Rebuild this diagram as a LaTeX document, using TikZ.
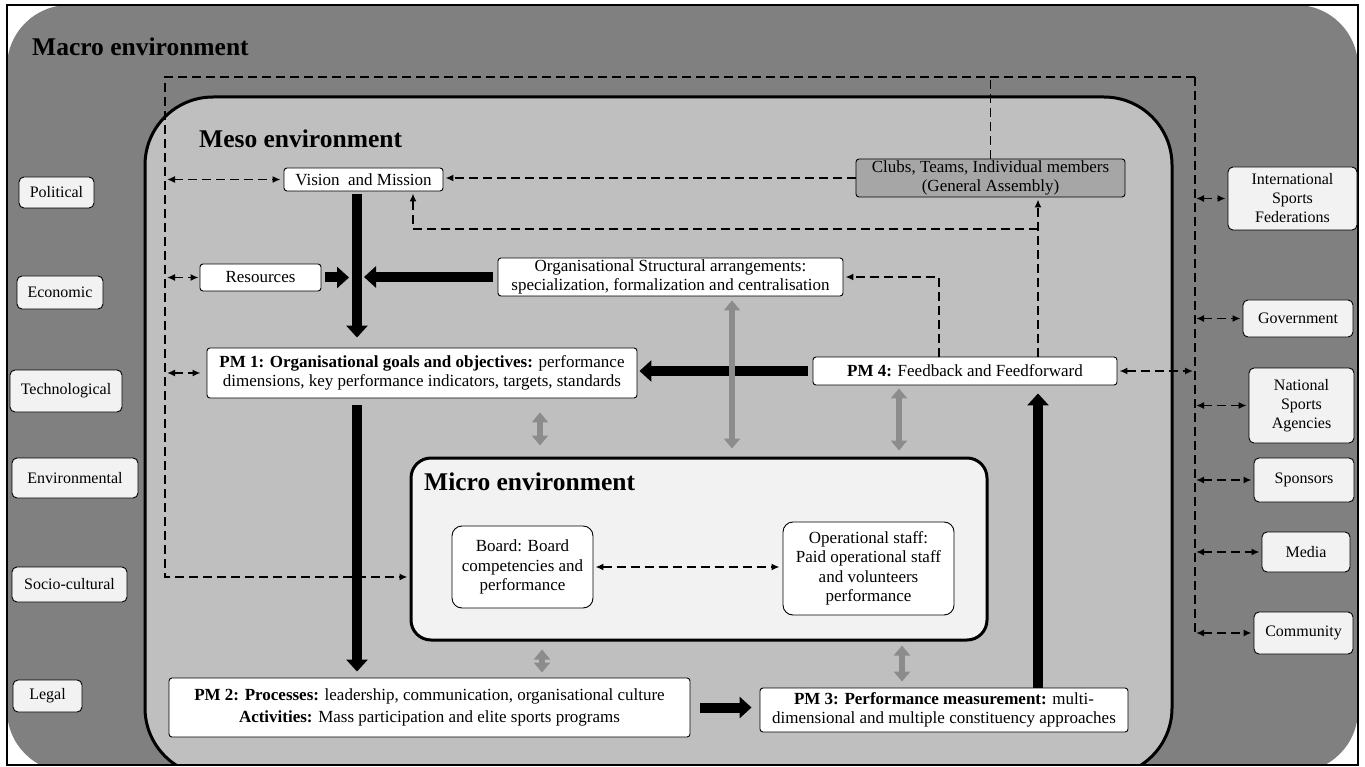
\documentclass[tikz,border=0pt]{standalone}
\usepackage{fontspec}
\setmainfont{Liberation Serif}
\usetikzlibrary{arrows.meta}
\definecolor{macrogray}{HTML}{808080}
\definecolor{mesogray}{HTML}{BFBFBF}
\definecolor{microfill}{HTML}{F2F2F2}
\definecolor{clubfill}{HTML}{A6A6A6}
\definecolor{greyarrow}{HTML}{8C8C8C}
\begin{document}
\begin{tikzpicture}[x=1pt,y=-1pt,
  box/.style={draw=black, line width=0.9pt, fill=white, rounded corners=3pt, inner sep=0pt, align=center, font=\fontsize{17}{19.5}\selectfont},
  envbox/.style={box, fill=microfill, rounded corners=5pt, font=\fontsize{16}{19}\selectfont},
  dline/.style={draw=black, line width=1.9pt, dash pattern=on 9pt off 5pt},
  dto/.style={dline, -{Latex[length=8pt,width=7pt]}},
  dboth/.style={dline, {Latex[length=8pt,width=7pt]}-{Latex[length=8pt,width=7pt]}},
  bigarrow/.style={line width=10pt, -{Triangle[width=21pt,length=12pt]}},
  greyboth/.style={draw=greyarrow, line width=6.5pt, {Triangle[width=16pt,length=10pt]}-{Triangle[width=16pt,length=10pt]}},
  envtitle/.style={font=\fontsize{25.5}{30}\selectfont\bfseries, inner sep=0pt, anchor=west}
]
\fill[white] (0,0) rectangle (1365,767);
\useasboundingbox (0,0) rectangle (1365,767);

% environments
\begin{scope}
\clip (7,5) rectangle (1358,765);
\fill[macrogray, rounded corners=62pt] (7,5) rectangle (1358,772);
\filldraw[fill=mesogray, draw=black, line width=3pt, rounded corners=68pt] (145,97) rectangle (1172,776);
\end{scope}
\draw[line width=1.2pt] (7,5) rectangle (1358,765);

\node[envtitle] (macrolabel) at (32,47) {Macro environment};
\node[envtitle] (mesolabel) at (199,139) {Meso environment};

% micro environment
\node[draw=black, line width=3pt, fill=microfill, rounded corners=20pt, minimum width=576pt, minimum height=182pt, inner sep=0pt] (micro) at (699,549) {};
\node[envtitle] (microlabel) at (424,482) {Micro environment};

% left column
\node[envbox, minimum width=75pt, minimum height=31pt] (political) at (56.5,192.5) {Political};
\node[envbox, minimum width=86pt, minimum height=33pt] (economic) at (60,292.5) {Economic};
\node[envbox, minimum width=112pt, minimum height=42pt] (technological) at (66,391) {Technological};
\node[envbox, minimum width=126pt, minimum height=40pt] (environmental) at (75,478) {Environmental};
\node[envbox, minimum width=115pt, minimum height=35pt] (sociocultural) at (69.5,584.5) {Socio-cultural};
\node[envbox, minimum width=69pt, minimum height=32pt] (legal) at (47.5,696) {Legal};

% right column
\node[envbox, minimum width=129pt, minimum height=63pt] (isf) at (1292.5,198.5) {International\\Sports\\Federations};
\node[envbox, minimum width=110pt, minimum height=37pt] (government) at (1298,318.5) {Government};
\node[envbox, minimum width=105pt, minimum height=75pt] (nsa) at (1301.5,405.5) {National\\Sports\\Agencies};
\node[envbox, minimum width=100pt, minimum height=44pt] (sponsors) at (1304,480) {Sponsors};
\node[envbox, minimum width=88pt, minimum height=40pt] (media) at (1306,552) {Media};
\node[envbox, minimum width=99pt, minimum height=42pt] (community) at (1303.5,633) {Community};

% meso nodes
\node[box, minimum width=159pt, minimum height=23pt] (vision) at (363.5,179.5) {Vision\ \ and Mission};
\node[box, fill=clubfill, minimum width=269pt, minimum height=38pt] (clubs) at (990.5,178) {Clubs, Teams, Individual members\\(General Assembly)};
\node[box, minimum width=121pt, minimum height=27pt] (resources) at (260.5,277.5) {Resources};
\node[box, minimum width=345pt, minimum height=38pt] (org) at (670.5,277) {Organisational Structural arrangements:\\specialization, formalization and centralisation};
\node[box, minimum width=430pt, minimum height=50pt] (pm1) at (422,373) {\textbf{PM 1: Organisational goals and objectives:} performance\\dimensions, key performance indicators, targets, standards};
\node[box, minimum width=304pt, minimum height=28pt] (pm4) at (965,371) {\textbf{PM 4:} Feedback and Feedforward};
\node[box, minimum width=521pt, minimum height=59pt] (pm2) at (429.5,707.5) {\textbf{PM 2: Processes:} leadership, communication, organisational culture\\[3pt]\textbf{Activities:} Mass participation and elite sports programs};
\node[box, minimum width=368pt, minimum height=44pt] (pm3) at (944,710) {\textbf{PM 3: Performance measurement:} multi-\\dimensional and multiple constituency approaches};

% micro nodes
\node[box, rounded corners=10pt, minimum width=141pt, minimum height=82pt] (board) at (522.5,567) {Board: Board\\competencies and\\performance};
\node[box, rounded corners=10pt, minimum width=171pt, minimum height=93pt] (opstaff) at (868.5,568.5) {Operational staff:\\Paid operational staff\\and volunteers\\performance};

% helper coordinates
\coordinate (L0) at (165,77);
\coordinate (R0) at (1195,77);
\coordinate (Lb) at (165,577);
\coordinate (Rb) at (1195,633);
\coordinate (tk) at (357,0);
\coordinate (fb) at (1038,0);
\coordinate (b1) at (1038,229);
\coordinate (b2) at (413,229);
\coordinate (b3) at (939,0);
\coordinate (resend) at (349,277.5);
\coordinate (orgend) at (364,277);
\coordinate (gx1) at (732,0);
\coordinate (gx2) at (540,0);
\coordinate (gx3) at (899,0);
\coordinate (gx4) at (542,0);
\coordinate (gx5) at (902,0);

% dashed frame lines
\draw[dto, shorten >=2pt] (R0) -- (L0) -- (Lb) -- (micro.west |- Lb);
\draw[dline] (R0) -- (Rb);
\draw[dline] (clubs.north) -- (clubs.north |- L0);

% left dashed double arrows
\draw[dboth, shorten <=2pt, shorten >=3pt] (vision.west -| L0) -- (vision.west);
\draw[dboth, shorten <=2pt, shorten >=1pt] (resources.west -| L0) -- (resources.west);
\draw[dboth, shorten <=2pt, shorten >=6pt] (pm1.west -| L0) -- (pm1.west);

% right dashed double arrows
\draw[dboth, shorten <=1pt, shorten >=2pt] (isf.west -| R0) -- (isf.west);
\draw[dboth, shorten <=1pt, shorten >=2pt] (government.west -| R0) -- (government.west);
\draw[dboth, shorten <=1pt, shorten >=2pt] (nsa.west -| R0) -- (nsa.west);
\draw[dboth, shorten <=1pt, shorten >=2pt] (sponsors.west -| R0) -- (sponsors.west);
\draw[dboth, shorten <=1pt, shorten >=2pt] (media.west -| R0) -- (media.west);
\draw[dboth, shorten <=1pt, shorten >=2pt] (community.west -| R0) -- (community.west);
\draw[dboth, shorten <=2pt, shorten >=2pt] (pm4.east) -- (pm4.east -| R0);

% inner dashed arrows
\draw[dto, shorten >=2pt] (clubs.west) -- (vision.east |- clubs.west);
\draw[dto, shorten >=2pt] (pm4.north -| fb) -- (clubs.south -| fb);
\draw[dto, shorten >=2pt] (b1) -- (b2) -- (vision.south -| b2);
\draw[dto, shorten >=2pt] (pm4.north -| b3) |- (org.east);
\draw[dboth, shorten <=2pt, shorten >=3pt] (board.east) -- (opstaff.west |- board.east);

% thick black arrows
\draw[bigarrow, shorten <=3pt, shorten >=10pt] (vision.south -| tk) -- (pm1.north -| tk);
\draw[bigarrow, shorten <=4pt] (resources.east) -- (resend);
\draw[bigarrow, shorten <=5pt] (org.west) -- (orgend);
\draw[bigarrow, shorten <=5pt, shorten >=2pt] (pm4.west) -- (pm1.east |- pm4.west);
\draw[bigarrow, shorten <=7pt, shorten >=6pt] (pm1.south -| tk) -- (pm2.north -| tk);
\draw[bigarrow, shorten <=10pt, shorten >=8pt] (pm2.east) -- (pm3.west |- pm2.east);
\draw[bigarrow, shorten >=8pt] (pm3.north -| fb) -- (pm4.south -| fb);

% grey double arrows
\draw[greyboth, shorten <=4pt, shorten >=8pt] (org.south -| gx1) -- (micro.north -| gx1);
\draw[greyboth, shorten <=14pt, shorten >=11pt] (pm1.south -| gx2) -- (micro.north -| gx2);
\draw[greyboth, shorten <=3pt, shorten >=6pt] (pm4.south -| gx3) -- (micro.north -| gx3);
\draw[greyboth, shorten <=8pt, shorten >=5pt] (micro.south -| gx4) -- (pm2.north -| gx4);
\draw[greyboth, shorten <=4pt, shorten >=6pt] (micro.south -| gx5) -- (pm3.north -| gx5);
\end{tikzpicture}
\end{document}
